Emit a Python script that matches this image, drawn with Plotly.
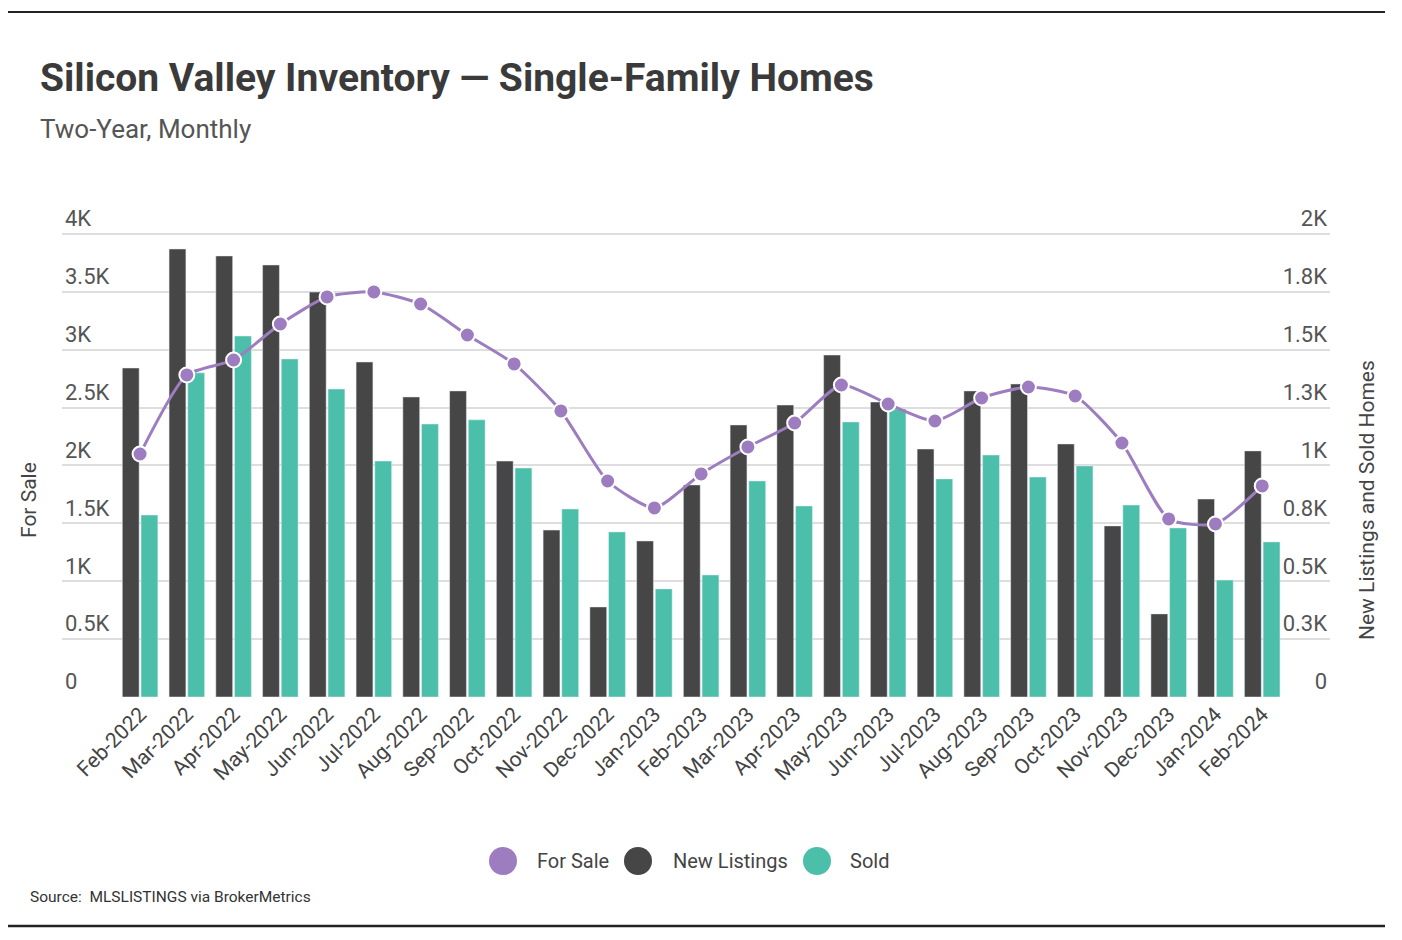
import plotly.graph_objects as go

months = ["Feb-2022", "Mar-2022", "Apr-2022", "May-2022", "Jun-2022", "Jul-2022", "Aug-2022",
          "Sep-2022", "Oct-2022", "Nov-2022", "Dec-2022", "Jan-2023", "Feb-2023", "Mar-2023",
          "Apr-2023", "May-2023", "Jun-2023", "Jul-2023", "Aug-2023", "Sep-2023", "Oct-2023",
          "Nov-2023", "Dec-2023", "Jan-2024", "Feb-2024"]

for_sale = [2099, 2782, 2911, 3222, 3456, 3499, 3395, 3127, 2877, 2471, 1866, 1633, 1927,
            2160, 2367, 2695, 2531, 2384, 2583, 2678, 2600, 2194, 1538, 1495, 1823]

new_listings = [1421, 1935, 1905, 1866, 1749, 1447, 1296, 1322, 1019, 721, 389, 674, 916,
                1175, 1261, 1477, 1274, 1071, 1322, 1352, 1093, 739, 359, 855, 1063]

sold = [786, 1400, 1559, 1460, 1330, 1019, 1179, 1197, 989, 812, 713, 467, 527, 933, 825,
        1188, 1244, 942, 1045, 950, 998, 829, 730, 505, 670]

left_tickvals = [0, 500, 1000, 1500, 2000, 2500, 3000, 3500, 4000]
left_ticktext = ["0", "0.5K", "1K", "1.5K", "2K", "2.5K", "3K", "3.5K", "4K"]
right_tickvals = [0, 250, 500, 750, 1000, 1250, 1500, 1750, 2000]
right_ticktext = ["0", "0.3K", "0.5K", "0.8K", "1K", "1.3K", "1.5K", "1.8K", "2K"]

PURPLE = "#9d7dc0"
DARK = "#464646"
TEAL = "#4bbfa9"
FONT = "Roboto, sans-serif"

OFF = 8  # page body margin
W, H = 1402 - OFF, 940 - OFF
# plot area in screen pixels
LS, RS, TS, BS = 62, 1330, 205, 697


def px(x):
    return (x - LS) / (RS - LS)


def py(y):
    return (BS - y) / (BS - TS)


fig = go.Figure()
fig.add_trace(go.Bar(x=months, y=new_listings, name="New Listings", marker_color=DARK,
                     yaxis="y", showlegend=False))
fig.add_trace(go.Bar(x=months, y=sold, name="Sold", marker_color=TEAL,
                     yaxis="y", showlegend=False))
fig.add_trace(go.Scatter(x=months, y=for_sale, name="For Sale", mode="lines+markers",
                         line=dict(color=PURPLE, width=3, shape="spline", smoothing=0.6),
                         marker=dict(color=PURPLE, size=15, line=dict(color="white", width=2)),
                         yaxis="y2", showlegend=False))

annotations = [
    dict(text="<b>Silicon Valley Inventory — Single-Family Homes</b>", x=px(38), y=py(78),
         xref="paper", yref="paper", xanchor="left", yanchor="middle", showarrow=False,
         font=dict(family=FONT, size=39, color="#3a3a3a")),
    dict(text="Two-Year, Monthly", x=px(38), y=py(129), xref="paper", yref="paper",
         xanchor="left", yanchor="middle", showarrow=False,
         font=dict(family=FONT, size=26, color="#555555")),
    dict(text="For Sale", x=px(29), y=py(500), xref="paper", yref="paper", textangle=-90,
         xanchor="center", yanchor="middle", showarrow=False,
         font=dict(family=FONT, size=21, color="#444444")),
    dict(text="New Listings and Sold Homes", x=px(1367), y=py(500), xref="paper", yref="paper",
         textangle=-90, xanchor="center", yanchor="middle", showarrow=False,
         font=dict(family=FONT, size=21, color="#444444")),
    dict(text="Source:  MLSLISTINGS via BrokerMetrics", x=px(28), y=py(897), xref="paper",
         yref="paper", xanchor="left", yanchor="middle", showarrow=False,
         font=dict(family=FONT, size=15.5, color="#333333")),
]

shapes = [
    dict(type="line", xref="paper", yref="paper", x0=px(8), x1=px(1385), y0=py(12), y1=py(12),
         line=dict(color="#222222", width=2)),
    dict(type="line", xref="paper", yref="paper", x0=px(8), x1=px(1385), y0=py(926), y1=py(926),
         line=dict(color="#222222", width=2.5)),
]

legend_items = [("For Sale", PURPLE, 503, 535), ("New Listings", DARK, 638, 671), ("Sold", TEAL, 817, 848)]
r = 14
for label, color, cx, tx in legend_items:
    shapes.append(dict(type="circle", xref="paper", yref="paper",
                       x0=px(cx - r), x1=px(cx + r), y0=py(861 + r), y1=py(861 - r),
                       fillcolor=color, line=dict(width=0)))
    annotations.append(dict(text=label, x=px(tx), y=py(861), xref="paper", yref="paper",
                            xanchor="left", yanchor="middle", showarrow=False,
                            font=dict(family=FONT, size=20, color="#444444")))

fig.update_layout(
    width=W, height=H,
    margin=dict(l=LS - OFF, r=W - (RS - OFF), t=TS - OFF, b=H - (BS - OFF), pad=0),
    paper_bgcolor="white", plot_bgcolor="white",
    font=dict(family=FONT, color="#555555"),
    barmode="group", bargap=0.2, bargroupgap=0.1,
    xaxis=dict(range=[-1.67, 25.45], tickangle=-45, showgrid=False, showline=False,
               ticks="", tickfont=dict(size=21, color="#444444")),
    yaxis=dict(side="right", range=[0, 2125], tickvals=right_tickvals, ticktext=right_ticktext,
               ticklabelposition="inside top", showgrid=True, gridcolor="#dedede", gridwidth=1.5,
               zeroline=False, showline=False, tickfont=dict(size=22, color="#555555")),
    yaxis2=dict(side="left", overlaying="y", range=[0, 4250], tickvals=left_tickvals,
                ticktext=left_ticktext, ticklabelposition="inside top", showgrid=False,
                zeroline=False, showline=False, tickfont=dict(size=22, color="#555555")),
    annotations=annotations,
    shapes=shapes,
)

fig.write_html("out.html")
